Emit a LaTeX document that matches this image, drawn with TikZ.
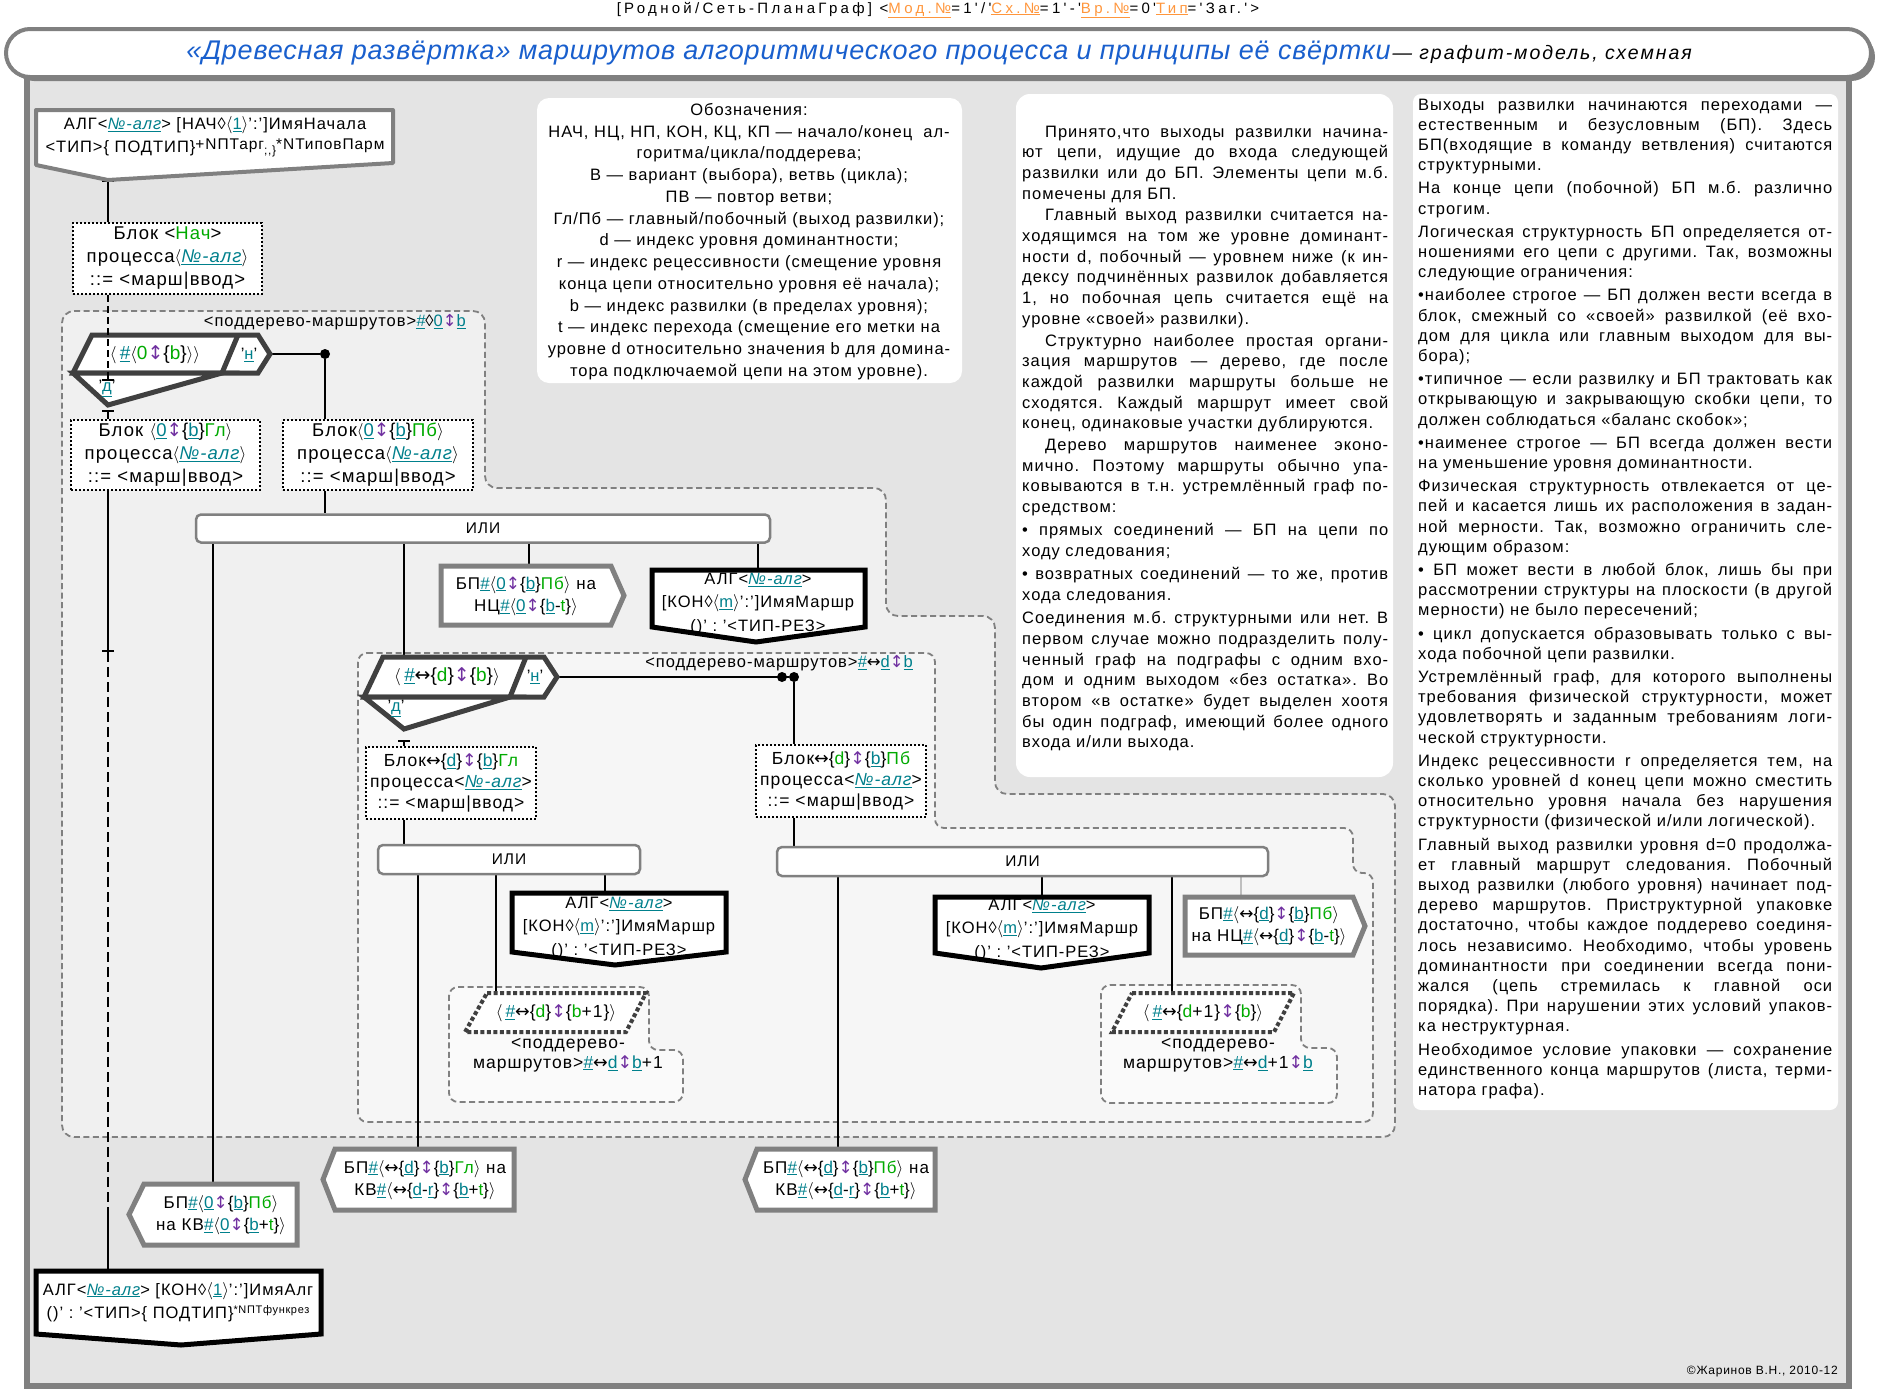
\documentclass[tikz,border=0pt]{standalone}
\usepackage{fontspec}
\setmainfont{Liberation Sans}[LetterSpace=6]
\newfontfamily\hdrfont{Liberation Sans}[LetterSpace=22]
\newfontfamily\ttlfont{Liberation Sans}[LetterSpace=3]
\newfontfamily\subfont{Liberation Sans}[LetterSpace=10]
\newfontfamily\arrfont{DejaVu Sans}
\usetikzlibrary{arrows.meta, positioning}
\pgfdeclarelayer{back}
\pgfdeclarelayer{wires}
\pgfsetlayers{back,wires,main}
\frenchspacing
\definecolor{idx}{RGB}{0, 128, 140}
\definecolor{grnc}{RGB}{0, 170, 0}
\definecolor{vio}{RGB}{112, 48, 160}
\definecolor{hdrc}{RGB}{255, 150, 60}
\definecolor{ttl}{RGB}{25, 95, 205}
\definecolor{panelbg}{RGB}{228, 228, 228}
\definecolor{zoneA}{RGB}{240, 240, 240}
\definecolor{zoneB}{RGB}{246, 246, 246}
\definecolor{zoneC}{RGB}{250, 250, 250}
\newcommand{\fBlk}{\fontsize{18.5}{23}\selectfont}
\newcommand{\fBlkS}{\fontsize{17.5}{21}\selectfont}
\newcommand{\fBp}{\fontsize{17}{22.5}\selectfont}
\newcommand{\fAlg}{\fontsize{16.5}{23.5}\selectfont}
\newcommand{\fIli}{\fontsize{15.5}{18}\selectfont}
\newcommand{\fLbl}{\fontsize{16.5}{20}\selectfont}
\newcommand{\fMini}{\fontsize{17.5}{20}\selectfont}
\newcommand{\fFork}{\fontsize{19}{20}\selectfont}
\newcommand{\fPar}{\fontsize{17.5}{20}\selectfont}
\newcommand{\fSup}{\fontsize{15.5}{16}\selectfont}
\newcommand{\fNoteL}{\fontsize{16.5}{21.75}\selectfont}
\newcommand{\fNoteM}{\fontsize{16.5}{20.7}\selectfont}
\newcommand{\fNoteR}{\fontsize{16.5}{20.2}\selectfont}
\newcommand{\ixu}[1]{\textcolor{idx}{\underline{#1}}}
\newcommand{\grn}[1]{\textcolor{grnc}{#1}}
\newcommand{\udv}{\textcolor{vio}{{\arrfont ↕}}}
\newcommand{\lrarr}{{\arrfont ↔}}
\newcommand{\lan}{\ensuremath{\langle}}
\newcommand{\ran}{\ensuremath{\rangle}}
\newcommand{\nalg}{\ixu{\itshape №-алг}}
\newcommand{\hsh}{\ixu{\itshape\#}}
\newcommand{\hdu}[1]{\textcolor{hdrc}{\underline{#1}}}
\newcommand{\pind}{\hspace*{23pt}}
\newcommand{\justset}{\tolerance=10000 \hbadness=10000 \hyphenpenalty=10000 \exhyphenpenalty=10000 }

\begin{document}
\begin{tikzpicture}[x=1pt, y=-1pt,
    link/.style={line width=2pt, draw=black},
    subtree/.style={draw=black!50, line width=1.8pt, dash pattern=on 6pt off 3.5pt, rounded corners=12pt},
    blok/.style={draw=black, line width=2pt, dash pattern=on 2pt off 2pt, fill=white, inner sep=0pt, align=center},
    ili/.style={draw=black!50, line width=2.5pt, rounded corners=5pt, fill=white, font=\fIli},
    fork/.style={draw=black!75, line width=5pt, fill=white, line join=miter},
    bpbox/.style={draw=black!50, line width=5pt, fill=white, line join=miter},
    algbox/.style={draw=black, line width=5pt, line join=miter},
    para/.style={draw=black!75, line width=4pt, dash pattern=on 4pt off 2.5pt, fill=white},
    txt/.style={align=center, inner sep=0pt},
    dot/.style={circle, fill=black, inner sep=0pt, minimum size=10pt},
  ]
\useasboundingbox (0,0) rectangle (1877,1392);

\begin{pgfonlayer}{back}
  % frame and title bar
  \fill[panelbg] (27,79) rectangle (1849,1386);
  \draw[line width=6pt, black!50] (27,79) -- (27,1386) -- (1849,1386) -- (1849,79);
  \fill[black!50, rounded corners=24pt] (10,33) rectangle (1875,81);
  \filldraw[line width=4pt, draw=black!50, fill=white, rounded corners=24pt] (6,29) rectangle (1871,77);
  % text panels
  \fill[white, rounded corners=12pt] (537,98) rectangle (962,383);
  \fill[white, rounded corners=14pt] (1016,94) rectangle (1393,777);
  \fill[white, rounded corners=8pt] (1413,94) rectangle (1838,1110);
  % subtrees
  \filldraw[subtree, fill=zoneA] (62,311) -- (485,311) -- (485,488) -- (886,488) -- (886,616)
    -- (995,616) -- (995,794) -- (1395,794) -- (1395,1137) -- (62,1137) -- cycle;
  \filldraw[subtree, fill=zoneB, rounded corners=9pt] (358,653) -- (935,653) -- (935,828) -- (1353,828)
    -- (1353,873) -- (1373,873) -- (1373,1122) -- (358,1122) -- cycle;
  \filldraw[subtree, fill=zoneC, rounded corners=9pt] (449,987) -- (649,987) -- (649,1050) -- (683,1050)
    -- (683,1102) -- (449,1102) -- cycle;
  \filldraw[subtree, fill=zoneC, rounded corners=9pt] (1101,985) -- (1301,985) -- (1301,1048) -- (1337,1048)
    -- (1337,1103) -- (1101,1103) -- cycle;
\end{pgfonlayer}

\coordinate (a0tip) at (108,180);
\coordinate (f1d) at (108,381);
\coordinate (f1b) at (108,410);
\coordinate (f1r) at (270,354);
\coordinate (m1) at (108,652);
\coordinate (m2) at (108,1210);
\coordinate (algEtop) at (108,1271);
\coordinate (f2t) at (404,657);
\coordinate (f2b) at (404,735);
\coordinate (f2r) at (557,677);
\coordinate (bpK1top) at (213,1184);
\coordinate (bpN1top) at (529,566);
\coordinate (algK1top) at (758,570);
\coordinate (bpK2top) at (418,1149);
\coordinate (p2top) at (496,993);
\coordinate (algK2top) at (605,893);
\coordinate (bpK3top) at (838,1149);
\coordinate (algK3top) at (1042,897);
\coordinate (p3top) at (1172,993);
\coordinate (bpN3top) at (1241,897);

\node[inner sep=0pt] (hdr) at (938,10) {\hdrfont\fontsize{15}{16}\selectfont [Родной/Сеть-ПланаГраф] <\hdu{Мод.№}=1'/'\hdu{Сх.№}=1'-'\hdu{Вр.№}=0'\hdu{Тип}='Заг.'>};
\node[inner sep=0pt] (title) at (939,53) {{\ttlfont\itshape\fontsize{27}{30}\selectfont\color{ttl}«Древесная развёртка» маршрутов алгоритмического процесса и принципы её свёртки}\,{\subfont\itshape\fontsize{19.5}{20}\selectfont — графит-модель, схемная}};
\node[anchor=east, inner sep=0pt, font=\fontsize{12}{14}\selectfont] (copy) at (1838,1372) {©Жаринов В.Н., 2010-12};

% legend
\node[anchor=north, align=center, inner sep=0pt, font=\fNoteL] (legend) at (749,103) {Обозначения:\\
НАЧ, НЦ, НП, КОН, КЦ, КП — начало/конец~~ал-\\
горитма/цикла/поддерева;\\
В — вариант (выбора), ветвь (цикла);\\
ПВ — повтор ветви;\\
Гл/Пб — главный/побочный (выход развилки);\\
d — индекс уровня доминантности;\\
r — индекс рецессивности (смещение уровня\\
конца цепи относительно уровня её начала);\\
b — индекс развилки (в пределах уровня);\\
t — индекс перехода (смещение его метки на\\
уровне d относительно значения b для домина-\\
тора подключаемой цепи на этом уровне).};

\node[anchor=north west, text width=366pt, align=justify, inner sep=0pt, font=\fNoteM] (notes) at (1022,125.5) {\justset
\pind Принято,что выходы развилки начина-\linebreak
ют цепи, идущие до входа следующей\linebreak
развилки или до БП. Элементы цепи м.б.\linebreak
помечены для БП.\\[1pt]
\pind Главный выход развилки считается на-\linebreak
ходящимся на том же уровне доминант-\linebreak
ности d, побочный — уровнем ниже (к ин-\linebreak
дексу подчинённых развилок добавляется\linebreak
1, но побочная цепь считается ещё на\linebreak
уровне «своей» развилки).\\[1pt]
\pind Структурно наиболее простая органи-\linebreak
зация маршрутов — дерево, где после\linebreak
каждой развилки маршруты больше не\linebreak
сходятся. Каждый маршрут имеет свой\linebreak
конец, одинаковые участки дублируются.\\[1pt]
\pind Дерево маршрутов наименее эконо-\linebreak
мично. Поэтому маршруты обычно упа-\linebreak
ковываются в т.н. устремлённый граф по-\linebreak
средством:\\[2.5pt]
• прямых соединений — БП на цепи по\linebreak
ходу следования;\\[2.5pt]
• возвратных соединений — то же, против\linebreak
хода следования.\\[2.5pt]
Соединения м.б. структурными или нет. В\linebreak
первом случае можно подразделить полу-\linebreak
ченный граф на подграфы с одним вхо-\linebreak
дом и одним выходом «без остатка». Во\linebreak
втором «в остатке» будет выделен хоотя\linebreak
бы один подграф, имеющий более одного\linebreak
входа и/или выхода.};

\node[anchor=north west, text width=414pt, align=justify, inner sep=0pt, font=\fNoteR] (rules) at (1418,98.5) {\justset
Выходы развилки начинаются переходами —\linebreak
естественным и безусловным (БП). Здесь\linebreak
БП(входящие в команду ветвления) считаются\linebreak
структурными.\\[3pt]
На конце цепи (побочной) БП м.б. различно\linebreak
строгим.\\[3pt]
Логическая структурность БП определяется от-\linebreak
ношениями его цепи с другими. Так, возможны\linebreak
следующие ограничения:\\[3pt]
•наиболее строгое — БП должен вести всегда в\linebreak
блок, смежный со «своей» развилкой (её вхо-\linebreak
дом для цикла или главным выходом для вы-\linebreak
бора);\\[3pt]
•типичное — если развилку и БП трактовать как\linebreak
открывающую и закрывающую скобки цепи, то\linebreak
должен соблюдаться «баланс скобок»;\\[3pt]
•наименее строгое — БП всегда должен вести\linebreak
на уменьшение уровня доминантности.\\[3pt]
Физическая структурность отвлекается от це-\linebreak
пей и касается лишь их расположения в задан-\linebreak
ной мерности. Так, возможно ограничить сле-\linebreak
дующим образом:\\[3pt]
• БП может вести в любой блок, лишь бы при\linebreak
рассмотрении структуры на плоскости (в другой\linebreak
мерности) не было пересечений;\\[3pt]
• цикл допускается образовывать только с вы-\linebreak
хода побочной цепи развилки.\\[3pt]
Устремлённый граф, для которого выполнены\linebreak
требования физической структурности, может\linebreak
удовлетворять и заданным требованиям логи-\linebreak
ческой структурности.\\[3pt]
Индекс рецессивности r определяется тем, на\linebreak
сколько уровней d конец цепи можно сместить\linebreak
относительно уровня начала без нарушения\linebreak
структурности (физической и/или логической).\\[3pt]
Главный выход развилки уровня d=0 продолжа-\linebreak
ет главный маршрут следования. Побочный\linebreak
выход развилки (любого уровня) начинает под-\linebreak
дерево маршрутов. Приструктурной упаковке\linebreak
достаточно, чтобы каждое поддерево соединя-\linebreak
лось независимо. Необходимо, чтобы уровень\linebreak
доминантности при соединении всегда пони-\linebreak
жался (цепь стремилась к главной оси\linebreak
порядка). При нарушении этих условий упаков-\linebreak
ка неструктурная.\\[3pt]
Необходимое условие упаковки — сохранение\linebreak
единственного конца маршрутов (листа, терми-\linebreak
натора графа).};

% subtree labels
\node[anchor=east, inner sep=0pt, font=\fLbl] (lbl1) at (466,322) {<поддерево-маршрутов>\hsh◊\ixu{0}\udv\ixu{b}};
\node[anchor=east, inner sep=0pt, font=\fLbl] (lbl2) at (913,663) {<поддерево-маршрутов>\hsh\lrarr\ixu{d}\udv\ixu{b}};

% start of algorithm
\filldraw[draw=black!50, line width=4pt, fill=white, line join=round] (36,110) -- (393,110) -- (393,163) -- (108,180) -- (36,165) -- cycle;
\node[txt, font=\fAlg] (alg0) at (215,137) {АЛГ<\nalg> [НАЧ◊\lan\ixu{1}\ran':']ИмяНачала\\
<ТИП>\{ ПОДТИП\}\raisebox{3pt}{\fSup +NПТарг}\raisebox{-2pt}{\fontsize{12}{12}\selectfont ;,\}}\raisebox{3pt}{\fSup *NТиповПарм}};
\node[blok, font=\fBlk, minimum width=189pt, minimum height=71pt] (blokN) at (167.5,258.5) {Блок <\grn{Нач}>\\процесса\lan\nalg\ran\\::= <марш|ввод>};

% fork 0
\draw[fork] (92,335) -- (258,335) -- (270,354) -- (258,373) -- (73,373) -- cycle;
\draw[fork] (73,373) -- (108,405) -- (222,373) -- cycle;
\draw[fork] (238,335) -- (222,373);
\node[txt, font=\fFork] (f1txt) at (155,355) {\lan\,\hsh\lan\grn{0}\udv\{\grn{b}\}\ran\ran};
\node[txt, font=\fLbl] (f1n) at (249,355) {'\ixu{н}'};
\node[txt, font=\fLbl] (f1dl) at (107,388) {'\ixu{д}'};
\draw[link, dash pattern=on 7pt off 4pt, -{Bar[width=12pt]}] (blokN.south -| a0tip) -- (f1d);
\node[dot] (dot1) at (325,354) {};
\node[blok, font=\fBlk, minimum width=189pt, minimum height=70pt] (blokG1) at (165.5,455) {Блок \lan\ixu{0}\udv\{\ixu{b}\}\grn{Гл}\ran\\процесса\lan\nalg\ran\\::= <марш|ввод>};
\node[blok, font=\fBlk, minimum width=190pt, minimum height=70pt] (blokP1) at (378,455) {Блок\lan\ixu{0}\udv\{\ixu{b}\}\grn{Пб}\ran\\процесса\lan\nalg\ran\\::= <марш|ввод>};

\node[ili, minimum width=574pt, minimum height=28pt] (ili1) at (483,528.5) {ИЛИ};
\draw[bpbox] (441,566) -- (611,566) -- (624,595.5) -- (611,625) -- (441,625) -- cycle;
\node[txt, font=\fBp] (bpN1) at (526,596) {БП\hsh\lan\ixu{0}\udv\{\ixu{b}\}\grn{Пб}\ran{} на\\НЦ\hsh\lan\ixu{0}\udv\{\ixu{b}-\grn{t}\}\ran};
\fill[white] (652,570) -- (865,570) -- (865,627) -- (756,642) -- (652,627) -- cycle;
\node[txt, font=\fAlg] (algK1) at (758,604) {АЛГ<\nalg>\\{[}КОН◊\lan\ixu{m}\ran':']ИмяМаршр\\()' : '<ТИП-РЕЗ>};
\draw[algbox] (652,570) -- (865,570) -- (865,627) -- (756,642) -- (652,627) -- cycle;

% fork d
\draw[fork] (383,657) -- (544,657) -- (557,677) -- (544,697) -- (364,697) -- cycle;
\draw[fork] (364,697) -- (404,729) -- (510,697) -- cycle;
\draw[fork] (526,657) -- (510,697);
\node[txt, font=\fFork] (f2txt) at (447,677) {\lan\,\hsh\lrarr\{\grn{d}\}\udv\{\grn{b}\}\ran};
\node[txt, font=\fLbl] (f2n) at (535,677) {'\ixu{н}'};
\node[txt, font=\fLbl] (f2dl) at (396,708) {'\ixu{д}'};
\node[dot] (dot2a) at (782,677) {};
\node[dot] (dot2b) at (794,677) {};
\node[blok, font=\fBlkS, minimum width=170pt, minimum height=72pt] (blokG2) at (451,783) {Блок\lrarr\{\ixu{d}\}\udv\{\ixu{b}\}\grn{Гл}\\процесса<\nalg>\\::= <марш|ввод>};
\node[blok, font=\fBlkS, minimum width=170pt, minimum height=72pt] (blokP2) at (841,781) {Блок\lrarr\{\grn{d}\}\udv\{\ixu{b}\}\grn{Пб}\\процесса<\nalg>\\::= <марш|ввод>};

\node[ili, minimum width=262pt, minimum height=29pt] (ili2) at (509,859.5) {ИЛИ};
\fill[white] (512,893) -- (726,893) -- (726,952) -- (615,965) -- (512,952) -- cycle;
\node[txt, font=\fAlg] (algK2) at (619,928) {АЛГ<\nalg>\\{[}КОН◊\lan\ixu{m}\ran':']ИмяМаршр\\()' : '<ТИП-РЕЗ>};
\draw[algbox] (512,893) -- (726,893) -- (726,952) -- (615,965) -- (512,952) -- cycle;
\draw[para] (487,993) -- (646,993) -- (626,1032) -- (465,1032) -- cycle;
\node[txt, font=\fPar] (p2txt) at (556,1013) {\lan\,\hsh\lrarr\{\grn{d}\}\udv\{\grn{b}+1\}\ran};
\node[txt, font=\fMini] (lbl2a) at (568,1055) {<поддерево-\\маршрутов>\hsh\lrarr\ixu{d}\udv\ixu{b}+1};

\node[ili, minimum width=491pt, minimum height=29pt] (ili3) at (1022.5,861.5) {ИЛИ};
\fill[white] (935,897) -- (1149,897) -- (1149,953) -- (1041,968) -- (935,953) -- cycle;
\node[txt, font=\fAlg] (algK3) at (1042,930) {АЛГ<\nalg>\\{[}КОН◊\lan\ixu{m}\ran':']ИмяМаршр\\()' : '<ТИП-РЕЗ>};
\draw[algbox] (935,897) -- (1149,897) -- (1149,953) -- (1041,968) -- (935,953) -- cycle;
\draw[bpbox] (1185,897) -- (1353,897) -- (1365,926) -- (1353,955) -- (1185,955) -- cycle;
\node[txt, font=\fBp] (bpN3) at (1269,926) {БП\hsh\lan\lrarr\{\ixu{d}\}\udv\{\ixu{b}\}\grn{Пб}\ran\\на НЦ\hsh\lan\lrarr\{\ixu{d}\}\udv\{\ixu{b}-\grn{t}\}\ran};
\draw[para] (1132,993) -- (1294,993) -- (1274,1032) -- (1112,1032) -- cycle;
\node[txt, font=\fPar] (p3txt) at (1203,1013) {\lan\,\hsh\lrarr\{\grn{d}+1\}\udv\{\grn{b}\}\ran};
\node[txt, font=\fMini] (lbl3b) at (1218,1055) {<поддерево-\\маршрутов>\hsh\lrarr\ixu{d}+1\udv\ixu{b}};

% transitions to the ends
\draw[bpbox] (144,1184) -- (297,1184) -- (297,1245) -- (144,1245) -- (129,1214.5) -- cycle;
\node[txt, font=\fBp] (bpK1) at (221,1215) {БП\hsh\lan\ixu{0}\udv\{\ixu{b}\}\grn{Пб}\ran\\на КВ\hsh\lan\ixu{0}\udv\{\ixu{b}+\grn{t}\}\ran};
\draw[bpbox] (335,1149) -- (514,1149) -- (514,1210) -- (335,1210) -- (323,1179.5) -- cycle;
\node[txt, font=\fBp] (bpK2) at (425,1180) {БП\hsh\lan\lrarr\{\ixu{d}\}\udv\{\ixu{b}\}\grn{Гл}\ran{} на\\КВ\hsh\lan\lrarr\{\ixu{d}-\ixu{r}\}\udv\{\ixu{b}+\grn{t}\}\ran};
\draw[bpbox] (757,1149) -- (935,1149) -- (935,1210) -- (757,1210) -- (745,1179.5) -- cycle;
\node[txt, font=\fBp] (bpK3) at (846,1180) {БП\hsh\lan\lrarr\{\ixu{d}\}\udv\{\ixu{b}\}\grn{Пб}\ran{} на\\КВ\hsh\lan\lrarr\{\ixu{d}-\ixu{r}\}\udv\{\ixu{b}+\grn{t}\}\ran};
\fill[white] (36,1271) -- (321,1271) -- (321,1334) -- (181,1345) -- (36,1334) -- cycle;
\node[txt, font=\fAlg] (algE) at (178,1302) {АЛГ<\nalg> [КОН◊\lan\ixu{1}\ran':']ИмяАлг\\()' : '<ТИП>\{ ПОДТИП\}\raisebox{5pt}{\fontsize{11}{11}\selectfont *NПТфункрез}};
\draw[algbox] (36,1271) -- (321,1271) -- (321,1334) -- (181,1345) -- (36,1334) -- cycle;

\begin{pgfonlayer}{wires}
  \draw[link, {Bar[width=12pt]}-] (a0tip) -- (blokN.north -| a0tip);
  \draw[link, {Bar[width=12pt]}-] (f1b) -- (blokG1.north -| f1b);
  \draw[link] (f1r) -- (dot1);
  \draw[link] (dot1) -- (blokP1.north -| dot1);
  \draw[link, -{Bar[width=12pt]}] (blokG1.south -| f1b) -- (m1);
  \draw[link, dash pattern=on 10pt off 5pt] (m1) -- (m2);
  \draw[link] (m2) -- (algEtop);
  \draw[link] (blokP1.south -| dot1) -- (ili1.north -| dot1);
  \draw[link] (ili1.south -| bpK1top) -- (bpK1top);
  \draw[link] (ili1.south -| f2t) -- (f2t);
  \draw[link] (ili1.south -| bpN1top) -- (bpN1top);
  \draw[link] (ili1.south -| algK1top) -- (algK1top);
  \draw[link, {Bar[width=12pt,sep=5pt]Bar[width=12pt,sep=5pt]}-] (f2b) -- (blokG2.north -| f2b);
  \draw[link] (f2r) -- (dot2b);
  \draw[link] (dot2b) -- (blokP2.north -| dot2b);
  \draw[link] (blokG2.south -| f2b) -- (ili2.north -| f2b);
  \draw[link] (blokP2.south -| dot2b) -- (ili3.north -| dot2b);
  \draw[link] (ili2.south -| bpK2top) -- (bpK2top);
  \draw[link] (ili2.south -| p2top) -- (p2top);
  \draw[link] (ili2.south -| algK2top) -- (algK2top);
  \draw[link] (ili3.south -| bpK3top) -- (bpK3top);
  \draw[link] (ili3.south -| algK3top) -- (algK3top);
  \draw[link] (ili3.south -| p3top) -- (p3top);
  \draw[link, draw=black!25] (ili3.south -| bpN3top) -- (bpN3top);
\end{pgfonlayer}
\end{tikzpicture}
\end{document}
